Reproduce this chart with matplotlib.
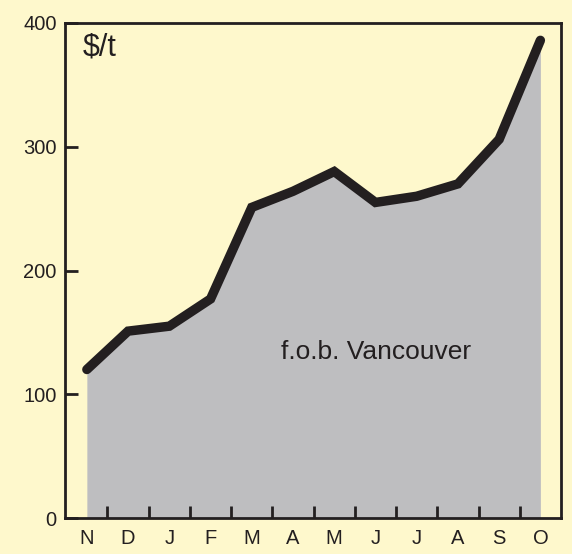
import matplotlib.pyplot as plt
import numpy as np

# monthly price, f.o.b. Vancouver ($/t)
months = ["N", "D", "J", "F", "M", "A", "M", "J", "J", "A", "S", "O"]
prices = [120, 151, 155, 177, 251, 264, 280, 255, 260, 270, 306, 386]
y_ticks = [0, 100, 200, 300, 400]

bg = "#fef8cc"
ink = "#231f20"
plt.rcParams["font.family"] = ["Liberation Sans", "DejaVu Sans"]


def main():
    fig = plt.figure(figsize=(5.72, 5.54), dpi=100, facecolor=bg)
    ax = fig.add_axes([65 / 572, 36 / 554, 496 / 572, 495 / 554], facecolor=bg)

    x = np.arange(len(months))
    ax.fill_between(x, prices, 0, color="#bebec0", lw=0, zorder=1)
    ax.plot(x, prices, color=ink, lw=6.8, solid_capstyle="round",
            solid_joinstyle="miter", zorder=2)

    ax.set_xlim(-0.53, 11.5)
    ax.set_ylim(0, 400)

    # month labels centred, tick marks on the boundaries
    ax.set_xticks(x)
    ax.set_xticklabels(months)
    ax.set_xticks(x[:-1] + 0.5, minor=True)
    ax.tick_params(axis="x", which="major", length=0, pad=8, labelsize=14.5,
                   labelcolor=ink)
    ax.tick_params(axis="x", which="minor", direction="in", length=9,
                   width=2, color=ink)
    ax.set_yticks(y_ticks)
    ax.tick_params(axis="y", direction="in", length=9, width=2, color=ink,
                   pad=6, labelsize=14.5, labelcolor=ink)

    for s in ax.spines.values():
        s.set_linewidth(2)
        s.set_color(ink)
        s.set_zorder(3)

    ax.text(0.036, 0.95, "$/t", transform=ax.transAxes, fontsize=22,
            color=ink, ha="left", va="center")
    ax.text(0.627, 0.335, "f.o.b. Vancouver", transform=ax.transAxes,
            fontsize=19, color=ink, ha="center", va="center")

    fig.savefig("out.png", dpi=100, facecolor=bg)


if __name__ == "__main__":
    main()
